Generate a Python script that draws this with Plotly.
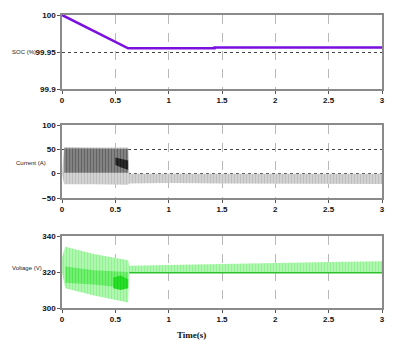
import plotly.graph_objects as go
from plotly.subplots import make_subplots

# ---- data ----
# state of charge
soc_t = [0.0, 0.62, 1.43, 1.43, 3.0]
soc_v = [100.0, 99.955, 99.955, 99.956, 99.956]

# battery current: envelope of the switching ripple
cur_t = [0.0, 0.02, 0.3, 0.62, 0.63, 1.0, 1.5, 2.0, 2.5, 3.0]
cur_hi = [0, 55, 54, 54, 0, 0, 0, 0, 0, 0]
cur_lo = [0, -22, -22, -23, -20, -19, -20, -20, -21, -21]
# denser core of the ripple while charging
core_t = [0.02, 0.3, 0.62]
core_hi = [52, 52, 51]
core_lo = [2, 2, 2]
# darkest cluster near the end of the first stage
clus_t = [0.5, 0.56, 0.62]
clus_hi = [33, 30, 27]
clus_lo = [18, 12, 8]

# battery voltage: envelope of the ripple
vol_t = [0.0, 0.03, 0.3, 0.62, 0.63, 1.0, 1.5, 2.0, 2.5, 3.0]
vol_hi = [328, 334, 330, 326.5, 323.5, 324, 324.5, 325, 325.5, 326]
vol_lo = [320, 311, 307, 303, 319.5, 319.5, 319.5, 319.5, 319.5, 319.5]
vcore_t = [0.03, 0.3, 0.62]
vcore_hi = [323, 321, 320]
vcore_lo = [314, 313, 311]
vclus_t = [0.48, 0.55, 0.62]
vclus_hi = [317, 318, 316]
vclus_lo = [311, 310, 311]
vline_t = [0.63, 3.0]
vline_v = [319.6, 319.6]

x_ticks = [0, 0.5, 1, 1.5, 2, 2.5, 3]

# page body has an 8px margin, so the figure is 8px smaller and everything is placed
# relative to the picture's pixels minus 8
W, H, OFF = 392, 338, 8


def px_x(p):
    return (p - OFF) / W


def px_y(p):
    return 1 - (p - OFF) / H


fig = make_subplots(rows=3, cols=1)


def band(t, lo, hi, row, fg, bg, solid):
    fig.add_trace(go.Scatter(x=t, y=lo, mode="lines", line=dict(width=0),
                             hoverinfo="skip", showlegend=False), row=row, col=1)
    fig.add_trace(go.Scatter(x=t, y=hi, mode="lines", line=dict(width=0),
                             fill="tonexty", fillcolor=bg,
                             fillpattern=dict(shape="|", fgcolor=fg, bgcolor=bg,
                                              size=3, solidity=solid),
                             showlegend=False), row=row, col=1)


# SOC
fig.add_trace(go.Scatter(x=soc_t, y=soc_v, mode="lines",
                         line=dict(color="#7a10e0", width=2.6),
                         showlegend=False), row=1, col=1)

# current
band(cur_t, cur_lo, cur_hi, 2, "#a4a4a4", "#dadada", 0.55)
band(core_t, core_lo, core_hi, 2, "#3c3c3c", "#8c8c8c", 0.5)
band(clus_t, clus_lo, clus_hi, 2, "#000000", "#333333", 0.6)

# voltage
band(vol_t, vol_lo, vol_hi, 3, "#66ee66", "#bdf7bd", 0.55)
band(vcore_t, vcore_lo, vcore_hi, 3, "#22dd22", "#7ef07e", 0.5)
band(vclus_t, vclus_lo, vclus_hi, 3, "#00cc00", "#33e033", 0.6)
fig.add_trace(go.Scatter(x=vline_t, y=vline_v, mode="lines",
                         line=dict(color="#2fbf2f", width=1.5),
                         showlegend=False), row=3, col=1)

tick_font = dict(family="Liberation Sans", size=8, color="#111", weight="bold")
common_x = dict(range=[0, 3], tickvals=x_ticks, ticktext=["0", "0.5", "1", "1.5", "2", "2.5", "3"],
                showgrid=True, gridcolor="#b8b8b8", griddash="dash", gridwidth=1,
                showline=True, mirror=True, linecolor="#8a8a8a", linewidth=1.5,
                ticks="outside", ticklen=3, tickcolor="#555", zeroline=False,
                tickfont=tick_font, domain=[px_x(62), px_x(382)], automargin=False)
common_y = dict(showgrid=True, gridcolor="#444", griddash="dot", gridwidth=1,
                showline=True, mirror=True, linecolor="#8a8a8a", linewidth=1.5,
                ticks="outside", ticklen=3, tickcolor="#555", zeroline=False,
                tickfont=tick_font, automargin=False)

fig.update_layout(
    width=W, height=H,
    margin=dict(l=0, r=0, t=0, b=0),
    plot_bgcolor="white", paper_bgcolor="white",
    xaxis=common_x, xaxis2=common_x, xaxis3=common_x,
    yaxis=dict(common_y, range=[99.9, 100], tickvals=[99.9, 99.95, 100],
               ticktext=["99.9", "99.95", "100"], domain=[px_y(89), px_y(15)]),
    yaxis2=dict(common_y, range=[-50, 100], tickvals=[-50, 0, 50, 100],
                domain=[px_y(198), px_y(125)]),
    yaxis3=dict(common_y, range=[300, 340], tickvals=[300, 320, 340],
                domain=[px_y(308), px_y(236)]),
)

lab_font = dict(family="Liberation Sans", size=6, color="#222")
labels = [("SOC (%)", 24, 52), ("Current (A)", 31, 163), ("Voltage (V)", 27, 268)]
for txt, lx, ly in labels:
    fig.add_annotation(text=txt, x=px_x(lx), y=px_y(ly), xref="paper", yref="paper",
                       xanchor="center", yanchor="middle", showarrow=False, font=lab_font)
fig.add_annotation(text="<b>Time(s)</b>", x=px_x(191), y=px_y(335), xref="paper", yref="paper",
                   xanchor="center", yanchor="middle", showarrow=False,
                   font=dict(family="Liberation Serif", size=9, color="#111"))

fig.write_html("out.html")
